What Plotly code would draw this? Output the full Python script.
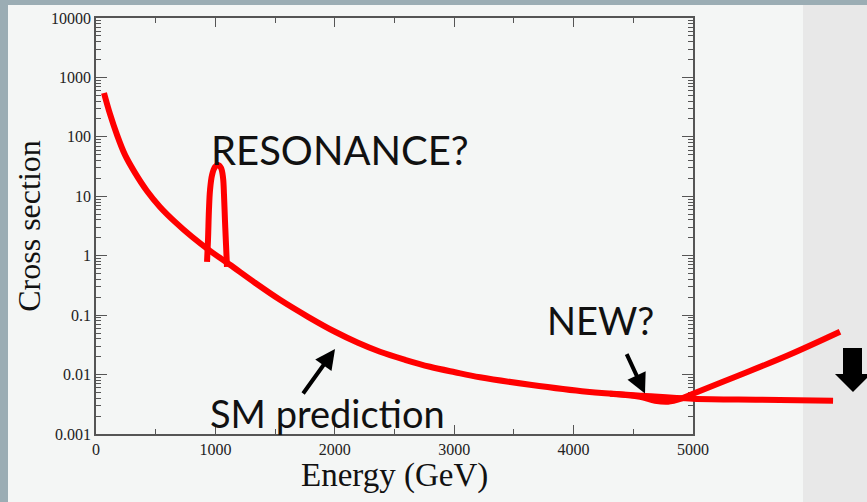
import plotly.graph_objects as go

W, H = 867, 502

# ---- data ----
sm_energy = [67, 117, 176, 243, 327, 427, 536, 662, 804, 955, 1122, 1332, 1541, 1776, 2002, 2194, 2379, 2588, 2797, 3007, 3216, 3635, 4112, 4581, 5000, 5561, 6173]
sm_xsec = [548, 243, 108, 49.7, 24.8, 12.3, 6.63, 3.71, 2.08, 1.21, 0.703, 0.350, 0.1812, 0.0938, 0.0525, 0.0343, 0.0242, 0.01775, 0.01353, 0.01094, 0.00901, 0.00674, 0.00514, 0.00440, 0.00392, 0.00377, 0.00363]

res_energy = [930, 938, 946, 955, 972, 997, 1022, 1047, 1064, 1072, 1080, 1089, 1097]
res_xsec = [0.79, 1.85, 5.9, 12.8, 22.9, 31.2, 33.7, 30.1, 20.4, 10.6, 4.0, 1.52, 0.65]

new_energy = [4305, 4556, 4682, 4791, 4899, 5000, 5335, 5787, 6231]
new_xsec = [0.00476, 0.00424, 0.00363, 0.00349, 0.00392, 0.00476, 0.00884, 0.0207, 0.0525]

x_ticks = [0, 1000, 2000, 3000, 4000, 5000]
y_ticks = [0.001, 0.01, 0.1, 1, 10, 100, 1000, 10000]
y_ticktext = ["0.001", "0.01", "0.1", "1", "10", "100", "1000", "10000"]

# ---- layout geometry ----
px0, px1 = 96, 693
py_top, py_bot = 18, 434
xd0, xd1 = px0 / W, px1 / W
yd0, yd1 = 1 - py_bot / H, 1 - py_top / H
x2max = 5000 * (1 - xd0) / (xd1 - xd0)

red = "#ff0000"
fig = go.Figure()
# empty trace to keep the framed subplot
fig.add_trace(go.Scatter(x=[], y=[], xaxis="x", yaxis="y", showlegend=False))
line = dict(color=red, width=6, shape="spline", smoothing=1.0)
fig.add_trace(go.Scatter(x=sm_energy, y=sm_xsec, mode="lines", line=line,
                         xaxis="x2", yaxis="y2", showlegend=False))
fig.add_trace(go.Scatter(x=res_energy, y=res_xsec, mode="lines", line=line,
                         xaxis="x2", yaxis="y2", showlegend=False))
fig.add_trace(go.Scatter(x=new_energy, y=new_xsec, mode="lines", line=line,
                         xaxis="x2", yaxis="y2", showlegend=False))

serif = "Liberation Serif"
axcol = "#555555"
fig.update_layout(
    width=W, height=H, autosize=False,
    margin=dict(l=0, r=0, t=0, b=0),
    paper_bgcolor="#f4f6f5",
    plot_bgcolor="rgba(0,0,0,0)",
    xaxis=dict(domain=[xd0, xd1], range=[0, 5000], anchor="y",
               tickvals=x_ticks, ticktext=[str(v) for v in x_ticks],
               ticks="inside", ticklen=9, tickwidth=1.3, tickcolor=axcol,
               showline=True, linecolor=axcol, linewidth=1.5, mirror="ticks",
               showgrid=False, zeroline=False, automargin=False,
               minor=dict(ticks="inside", ticklen=5, tickwidth=1.2, tickcolor=axcol, dtick=500, showgrid=False),
               tickfont=dict(family=serif, size=16, color="#222")),
    yaxis=dict(domain=[yd0, yd1], type="log", range=[-3, 4], anchor="x",
               tickvals=y_ticks, ticktext=y_ticktext,
               ticks="inside", ticklen=11, tickwidth=1.3, tickcolor=axcol,
               showline=True, linecolor=axcol, linewidth=1.5, mirror="ticks",
               showgrid=False, zeroline=False, automargin=False,
               minor=dict(ticks="inside", ticklen=5, tickwidth=1.2, tickcolor=axcol, dtick="D1", showgrid=False),
               tickfont=dict(family=serif, size=16, color="#222"),
               title=dict(text="Cross section", font=dict(family=serif, size=32, color="#111"), standoff=1)),
    xaxis2=dict(domain=[xd0, 1], range=[0, x2max], anchor="y2", visible=False),
    yaxis2=dict(domain=[yd0, yd1], type="log", range=[-3, 4], anchor="x2", visible=False),
)

# slide background regions
shapes = [
    dict(type="rect", xref="paper", yref="paper", x0=803 / W, x1=1, y0=0, y1=1,
         fillcolor="#e8e8e8", line=dict(width=0), layer="below"),
    dict(type="rect", xref="paper", yref="paper", x0=0, x1=1, y0=1 - 5 / H, y1=1,
         fillcolor="#9badb4", line=dict(width=0), layer="below"),
    dict(type="rect", xref="paper", yref="paper", x0=0, x1=8 / W, y0=0, y1=1,
         fillcolor="#9badb4", line=dict(width=0), layer="below"),
]
# big down arrow (pixel outline -> paper coords)
arrow_px = [(843, 348), (862, 348), (862, 374), (871, 374), (853, 392), (835, 374), (843, 374)]
path = "M " + " L ".join(f"{x / W:.5f},{1 - y / H:.5f}" for x, y in arrow_px) + " Z"
shapes.append(dict(type="path", xref="paper", yref="paper", path=path,
                   fillcolor="black", line=dict(width=0), layer="above"))
fig.update_layout(shapes=shapes)

gill = "Lato"
def ptext(text, x, y, size=38, family=gill, anchor="left", yanchor="middle"):
    return dict(text=text, xref="paper", yref="paper", x=x / W, y=1 - y / H,
                xanchor=anchor, yanchor=yanchor, showarrow=False,
                font=dict(family=family, size=size, color="#111"))

annots = [
    ptext("RESONANCE?", 209, 150, 40),
    ptext("NEW?", 545, 320),
    ptext("SM prediction", 208, 413),
    ptext("Energy (GeV)", 394.5, 455, 33, serif, "center", "top"),
    dict(text="", x=2002, y=-1.57, xref="x", yref="y", ax=-33, ay=46,
         showarrow=True, arrowhead=2, arrowsize=1, arrowwidth=4, arrowcolor="black"),
    dict(text="", x=4598, y=-2.32, xref="x", yref="y", ax=-19, ay=-41,
         showarrow=True, arrowhead=2, arrowsize=1, arrowwidth=4, arrowcolor="black"),
]
fig.update_layout(annotations=annots)

fig.write_html("out.html")
